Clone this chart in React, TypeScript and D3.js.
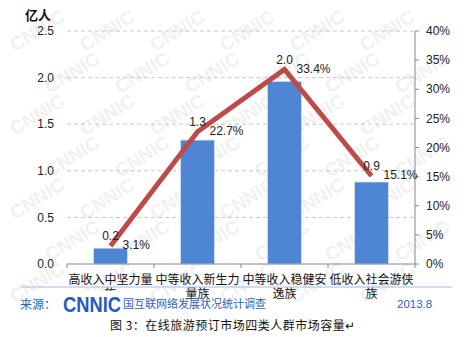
import React from "react";
import * as d3 from "d3";

const categories = ["高收入中坚力量族", "中等收入新生力量族", "中等收入稳健安逸族", "低收入社会游侠族"];
const volumes = [0.17, 1.33, 1.96, 0.88];
const volumeLabels = ["0.2", "1.3", "2.0", "0.9"];
const shares = [3.1, 22.7, 33.4, 15.1];
const leftTicks = [0, 0.5, 1.0, 1.5, 2.0, 2.5];
const rightTicks = [0, 5, 10, 15, 20, 25, 30, 35, 40];

const W = 467;
const H = 337;
const FONT = "'Liberation Sans', Arial, 'Noto Sans CJK SC', sans-serif";
const CJK = "'Noto Sans CJK SC', 'Liberation Sans', sans-serif";
const BLUE_TEXT = "#2a62c4";

export default function App() {
  const left = 67, right = 415, top = 31, bottom = 264;
  const x = d3.scaleBand<string>().domain(categories).range([left, right]).padding(0);
  const yL = d3.scaleLinear().domain([0, 2.5]).range([bottom, top]);
  const yR = d3.scaleLinear().domain([0, 40]).range([bottom, top]);
  const bw = x.bandwidth() * 0.39;
  const cx = (c: string) => (x(c) as number) + x.bandwidth() / 2;

  const line = d3
    .line<number>()
    .x((_, i) => cx(categories[i]))
    .y((d) => yR(d));

  const marks: React.ReactNode[] = [];
  let k = 0;
  for (let r = 0; r < 10; r++) {
    for (let c = 0; c < 9; c++) {
      const wx = -20 + c * 70 + (r % 2) * 35;
      const wy = 10 + r * 42;
      if (wx < 2 || wx > W - 58 || wy < 36 || wy > H - 4) continue;
      marks.push(
        <text
          key={k++}
          transform={`translate(${wx},${wy}) rotate(-32)`}
          fontFamily={FONT}
          fontWeight="bold"
          fontSize={19}
          fill="#000"
          opacity={0.055}
        >
          CNNIC
        </text>
      );
    }
  }

  const wrap = (s: string) => [s.slice(0, 7), s.slice(7)];

  return (
    <svg
      width={W}
      height={H}
      style={{ position: "absolute", left: 0, top: 0, background: "#fff" }}
    >
      <rect width={W} height={H} fill="#fff" />
      <g>{marks}</g>

      {/* gridlines */}
      {leftTicks.slice(1).map((t) => (
        <line
          key={t}
          x1={left}
          x2={right}
          y1={yL(t)}
          y2={yL(t)}
          stroke="#c8c8c8"
          strokeDasharray="4,3"
          strokeWidth={1}
        />
      ))}

      {/* left ticks */}
      {leftTicks.map((t) => (
        <text
          key={t}
          x={54}
          y={yL(t)}
          dy="0.35em"
          textAnchor="end"
          fontFamily={FONT}
          fontSize={12}
          fill="#222"
        >
          {t.toFixed(1)}
        </text>
      ))}
      <text x={25} y={20} fontFamily={CJK} fontSize={13} fontWeight="bold" fill="#111">
        亿人
      </text>

      {/* right axis */}
      <line x1={right} x2={right} y1={top} y2={bottom} stroke="#888" />
      {rightTicks.map((t) => (
        <g key={t}>
          <line x1={right} x2={right + 4} y1={yR(t)} y2={yR(t)} stroke="#888" />
          <text
            x={426}
            y={yR(t)}
            dy="0.35em"
            fontFamily={FONT}
            fontSize={12}
            fill="#222"
          >
            {t}%
          </text>
        </g>
      ))}

      {/* bars */}
      {categories.map((c, i) => (
        <rect
          key={c}
          x={cx(c) - bw / 2}
          y={yL(volumes[i])}
          width={bw}
          height={bottom - yL(volumes[i])}
          fill="#4f86d4"
          stroke="#d6e2f3"
          strokeWidth={0.8}
        />
      ))}

      {/* bottom axis */}
      <line x1={left} x2={right} y1={bottom} y2={bottom} stroke="#888" />
      {[...categories.map((c) => x(c) as number), right].map((v, i) => (
        <line key={i} x1={v} x2={v} y1={bottom} y2={bottom + 4} stroke="#888" />
      ))}

      {/* line */}
      <path
        d={line(shares) || ""}
        fill="none"
        stroke="#be4b48"
        strokeWidth={5}
        strokeLinejoin="miter"
      />

      {/* value labels */}
      {categories.map((c, i) => (
        <text
          key={c}
          x={cx(c)}
          y={Math.min(yL(volumes[i]), yR(shares[i])) - 10}
          dy="0.35em"
          textAnchor="middle"
          fontFamily={FONT}
          fontSize={12}
          fill="#222"
        >
          {volumeLabels[i]}
        </text>
      ))}
      {categories.map((c, i) => (
        <text
          key={c}
          x={cx(c) + 12}
          y={yR(shares[i]) - 1}
          dy="0.35em"
          fontFamily={FONT}
          fontSize={12}
          fill="#222"
        >
          {shares[i].toFixed(1)}%
        </text>
      ))}

      {/* category labels */}
      {categories.map((c) => {
        const [l1, l2] = wrap(c);
        return (
          <g key={c}>
            <text x={cx(c)} y={284} textAnchor="middle" fontFamily={CJK} fontSize={12} fill="#111">
              {l1}
            </text>
            <text x={cx(c)} y={298} textAnchor="middle" fontFamily={CJK} fontSize={12} fill="#111">
              {l2}
            </text>
          </g>
        );
      })}

      {/* footer */}
      <line x1={20} x2={452} y1={287} y2={287} stroke="#9dbde6" strokeWidth={1} />
      <rect x={58} y={291} width={64} height={23} fill="#fff" />
      <text x={20} y={309} fontFamily={CJK} fontSize={12} fill={BLUE_TEXT}>
        来源：
      </text>
      <text
        x={63}
        y={312}
        fontFamily={FONT}
        fontSize={22}
        fontWeight="bold"
        fill="#1f5cc4"
        textLength={58}
        lengthAdjust="spacingAndGlyphs"
      >
        CNNIC
      </text>
      <text x={123} y={308} fontFamily={CJK} fontSize={11} fill={BLUE_TEXT}>
        国互联网络发展状况统计调查
      </text>
      <text x={397} y={308} fontFamily={FONT} fontSize={11.5} fill={BLUE_TEXT}>
        2013.8
      </text>
      <text x={110} y={330} fontFamily={CJK} fontSize={12} letterSpacing={0.5} fill="#111">
        图 3：在线旅游预订市场四类人群市场容量↵
      </text>
    </svg>
  );
}
